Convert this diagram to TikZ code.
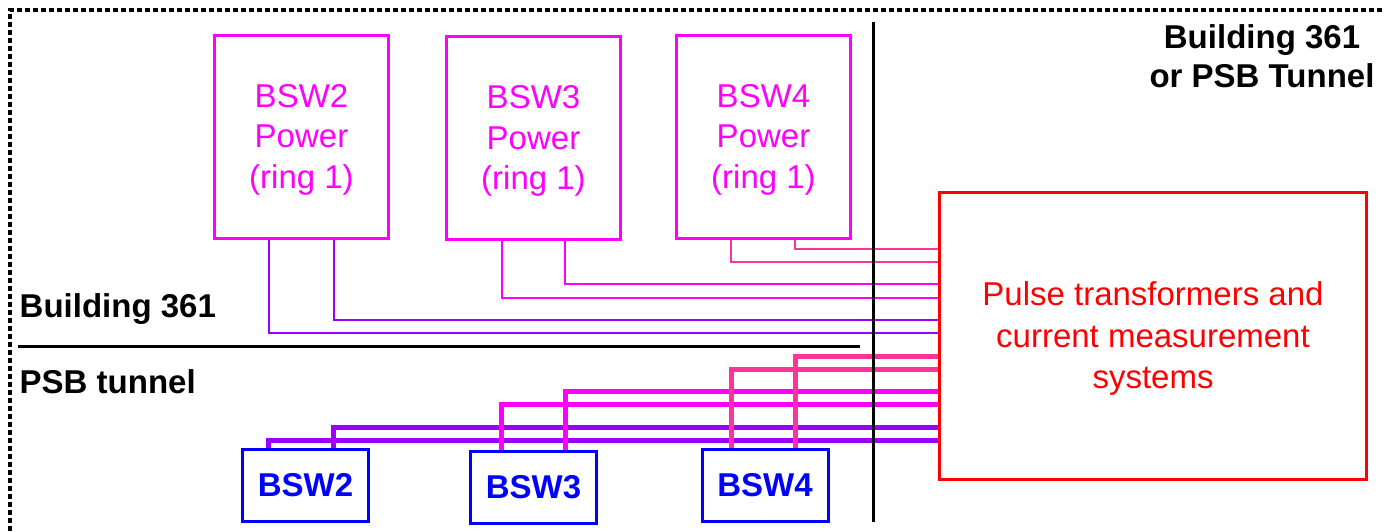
\documentclass[tikz,border=0pt]{standalone}
\usepackage{fontspec}
\setmainfont{Liberation Sans}
\definecolor{magc}{HTML}{FF00FF}
\definecolor{pinkc}{HTML}{FF3399}
\definecolor{purpc}{HTML}{9900FF}
\definecolor{redc}{HTML}{FF0000}
\definecolor{bluec}{HTML}{0000FF}
\newcommand{\toppad}{\rule{0pt}{29pt}}
\begin{document}
\begin{tikzpicture}[x=1pt,y=-1pt,
  powerbox/.style={draw=magc, line width=3pt, minimum width=174pt, minimum height=203pt,
    align=center, text=magc, inner sep=0pt, font=\fontsize{33}{40.5}\selectfont},
  bswbox/.style={draw=bluec, line width=3pt, minimum width=126pt, minimum height=72pt,
    text=bluec, inner sep=0pt, font=\fontsize{33}{40}\selectfont\bfseries},
  pulsebox/.style={draw=redc, line width=3pt, minimum width=427pt, minimum height=287pt,
    align=center, text=redc, inner sep=0pt, font=\fontsize{33}{41.5}\selectfont},
  zonelabel/.style={inner sep=0pt, font=\fontsize{33}{39}\selectfont\bfseries},
  thinlink/.style={line width=2pt},
  thicklink/.style={line width=5pt},
  divider/.style={line width=3pt, black},
  dotframe/.style={draw=black, line width=3.6pt, dash pattern=on 5pt off 3pt}
]
\useasboundingbox (0,0) rectangle (1384,531);

% dotted frame
\draw[dotframe] (10,531) -- (10,10) -- (1384,10);

% boxes
\node[powerbox] (p2) at (301.5,136.5) {\toppad BSW2\\Power\\(ring 1)};
\node[powerbox] (p3) at (533.5,138) {\toppad BSW3\\Power\\(ring 1)};
\node[powerbox] (p4) at (763.5,136.5) {\toppad BSW4\\Power\\(ring 1)};
\node[bswbox] (b2) at (305.5,485.5) {BSW2};
\node[bswbox] (b3) at (533.5,487) {BSW3};
\node[bswbox] (b4) at (765,485.5) {BSW4};
\node[pulsebox] (red) at (1153,336) {\toppad Pulse transformers and\\current measurement\\systems};

% leg x positions
\coordinate (x2a) at (268.5,0);
\coordinate (x2b) at (333.5,0);
\coordinate (x3a) at (501.5,0);
\coordinate (x3b) at (565,0);
\coordinate (x4a) at (731,0);
\coordinate (x4b) at (795,0);
% thin line heights
\coordinate (t4b) at (0,249);
\coordinate (t4a) at (0,262);
\coordinate (t3b) at (0,284);
\coordinate (t3a) at (0,298);
\coordinate (t2b) at (0,320);
\coordinate (t2a) at (0,333);
% thick line heights
\coordinate (k4b) at (0,356);
\coordinate (k4a) at (0,369);
\coordinate (k3b) at (0,391);
\coordinate (k3a) at (0,404);
\coordinate (k2b) at (0,427);
\coordinate (k2a) at (0,440);

% thin connectors (Building 361)
\draw[thinlink, purpc] (p2.south -| x2a) |- (red.west |- t2a);
\draw[thinlink, purpc] (p2.south -| x2b) |- (red.west |- t2b);
\draw[thinlink, magc] (p3.south -| x3a) |- (red.west |- t3a);
\draw[thinlink, magc] (p3.south -| x3b) |- (red.west |- t3b);
\draw[thinlink, pinkc] (p4.south -| x4a) |- (red.west |- t4a);
\draw[thinlink, pinkc] (p4.south -| x4b) |- (red.west |- t4b);

% thick connectors (PSB tunnel)
\draw[thicklink, purpc] (b2.north -| x2a) |- (red.west |- k2a);
\draw[thicklink, purpc] (b2.north -| x2b) |- (red.west |- k2b);
\draw[thicklink, magc] (b3.north -| x3a) |- (red.west |- k3a);
\draw[thicklink, magc] (b3.north -| x3b) |- (red.west |- k3b);
\draw[thicklink, pinkc] (b4.north -| x4a) |- (red.west |- k4a);
\draw[thicklink, pinkc] (b4.north -| x4b) |- (red.west |- k4b);

% dividers
\draw[divider] (873,22) -- (873,522);
\draw[divider] (18,346) -- (860,346);

% zone labels
\node[zonelabel, anchor=base west] (lb1) at (19.5,317) {Building 361};
\node[zonelabel, anchor=base west] (lb2) at (19.5,393) {PSB tunnel};
\node[zonelabel, anchor=base, align=center] (lb3) at (1262,87) {Building 361\\or PSB Tunnel};
\end{tikzpicture}
\end{document}
